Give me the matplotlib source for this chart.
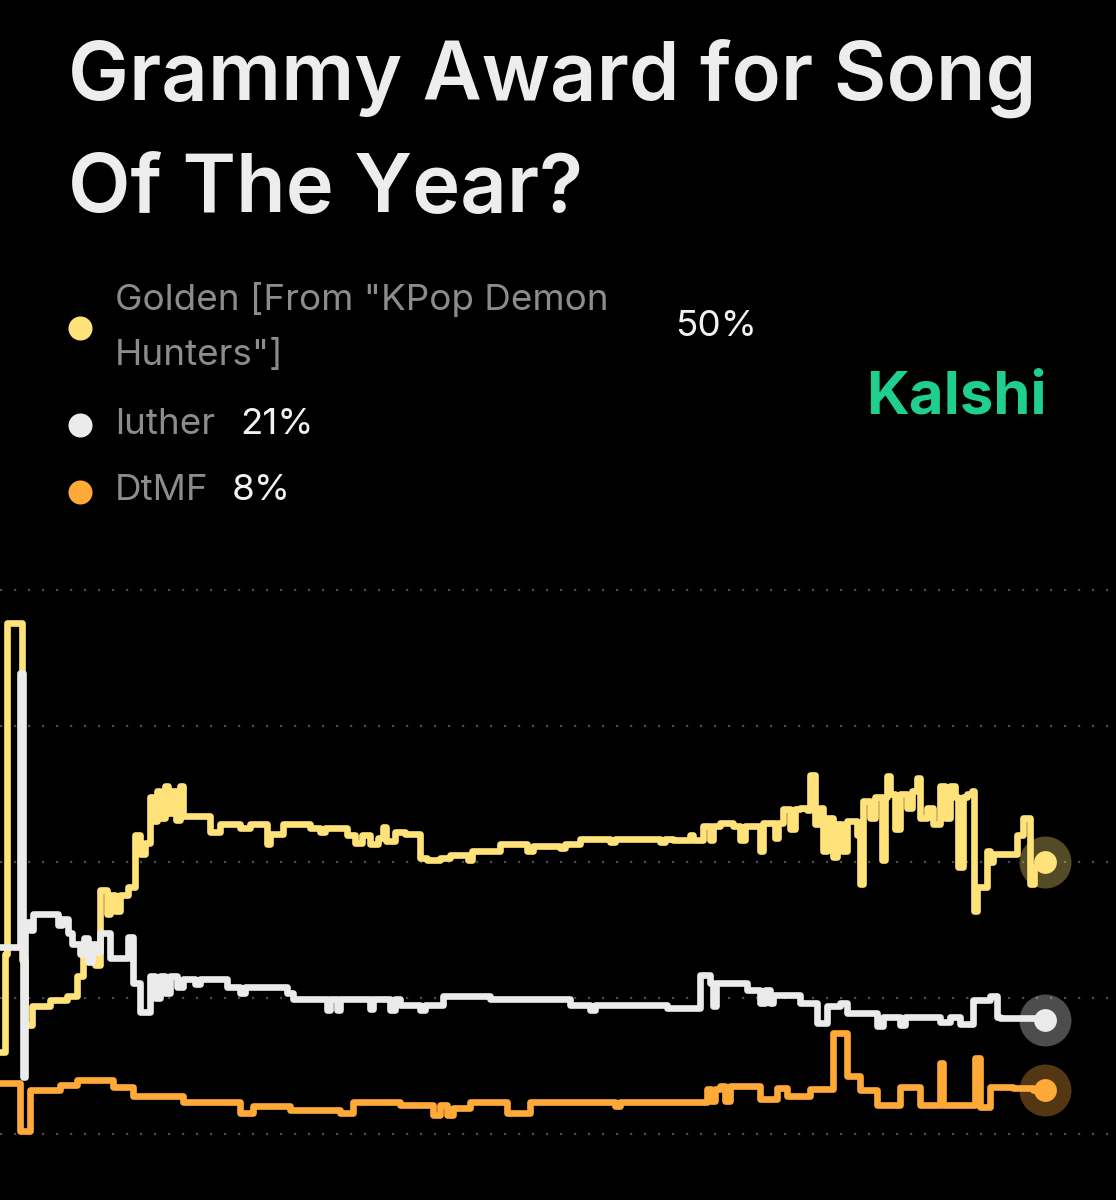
import numpy as np
import matplotlib
matplotlib.use("Agg")
import matplotlib.pyplot as plt

plt.rcParams["font.family"] = ["Inter", "DejaVu Sans"]

# ─── data (percent chance) ──────────────────────────────────────
golden_t = [0, 5, 7, 22, 25, 32, 50, 67, 77, 83, 95, 100, 107, 110, 115, 120, 128,
            135, 140, 145, 150, 153, 157, 160, 165, 168, 172, 176, 180, 183, 210,
            220, 240, 250, 267, 270, 283, 310, 320, 325, 347, 355, 362, 370, 378,
            383, 386, 395, 405, 420, 427, 440, 450, 468, 472, 500, 527, 533, 560,
            565, 580, 610, 615, 660, 665, 673, 690, 693, 703, 710, 713, 720, 733,
            740, 745, 760, 763, 775, 778, 783, 790, 795, 800, 807, 810, 815, 820,
            823, 827, 833, 837, 842, 847, 857, 860, 863, 870, 875, 882, 885, 887,
            890, 895, 900, 907, 912, 917, 920, 927, 933, 940, 945, 950, 955, 958,
            963, 967, 972, 974, 977, 987, 990, 993, 1017, 1023, 1030, 1034, 1040, 1045]
golden_v = [15, 33, 94, 32, 20, 23.5, 24.7, 25.3, 29, 33, 31, 44.8, 40.5, 44, 41, 44, 45.4,
            55, 51.5, 53.5, 62, 57.5, 63, 58, 64, 59, 63, 57.8, 64, 58.4, 55.6,
            56.9, 56.2, 56.9, 53.3, 55.2, 56.9, 56.2, 55.6, 56.2, 54.9, 53.5, 55, 53.3, 54.5,
            56.5, 53.8, 55.5, 55.2, 50.7, 50.3, 50.8, 51.3, 50.4, 52, 53.3, 52, 53, 52.6,
            53.3, 54.3, 53.6, 54.3, 53.7, 54.3, 54, 55, 54, 56.6, 54, 56.6, 57.2, 56.6,
            54, 56.6, 52, 57.2, 54.5, 57.2, 59.8, 56, 59.8, 60, 59.5, 66, 57, 60,
            52, 58, 51, 57, 52, 57.6, 55, 46, 61.3, 58, 62, 50.3, 62, 65.9,
            62.5, 56, 62.5, 60, 63, 65.5, 58, 60, 57, 64, 58, 64, 62, 49,
            62, 62.5, 63, 41, 45.4, 52, 50, 51.5, 55, 58, 46, 49, 50, 50]

luther_t = [0, 20, 23, 25, 30, 33, 58, 62, 68, 72, 80, 84, 88, 92, 96, 100, 110, 128,
            133, 140, 150, 155, 160, 165, 170, 177, 183, 195, 200, 227, 240, 245, 287,
            293, 327, 330, 337, 340, 370, 373, 390, 395, 400, 420, 425, 443, 490, 570,
            590, 595, 667, 700, 710, 713, 716, 747, 760, 765, 770, 773, 800, 817, 827,
            840, 847, 877, 883, 900, 905, 940, 950, 960, 973, 990, 997, 1000, 1045]
luther_v = [34.3, 84.7, 10.4, 38.9, 37.5, 40.5, 38.5, 39.5, 36.9, 35, 33, 36, 31.6, 35, 33.5,
            36.9, 32.3, 36.2, 27.7, 22.5, 29, 25, 29, 26, 29, 27, 28.5, 27.5, 28.5, 27.1,
            26, 27.1, 26, 24.8, 22.8, 24.8, 22.8, 24.8, 23, 24.8, 22.8, 24.8, 23.8, 22.8,
            23.8, 25.4, 24.8, 23.8, 22.8, 23.8, 23.1, 29.3, 27.7, 23.5, 27.7, 26.5, 24,
            26.5, 24, 25.5, 24, 20.4, 23.5, 24, 22.3, 19.8, 21.6, 20, 21.6, 20.5, 21.6,
            20.3, 24.7, 25.3, 21.6, 21.3, 21]

dtmf_t = [0, 20, 30, 60, 77, 113, 133, 183, 240, 253, 290, 340, 353, 400, 433, 440, 447,
          453, 470, 507, 530, 615, 620, 707, 711, 715, 720, 725, 730, 760, 777, 787, 810,
          833, 847, 860, 877, 900, 920, 940, 943, 975, 980, 990, 1013, 1033, 1045]
dtmf_v = [9.4, 0.5, 8, 9, 10, 8.7, 7, 5.8, 3.9, 5.1, 4.5, 3.9, 5.8, 5.4, 3.5, 5.4, 3.5,
          4.8, 5.8, 3.9, 5.8, 5.2, 5.8, 8.2, 6.1, 8.2, 8.8, 6.1, 8.8, 6.4, 8.5, 7, 8.2,
          18.6, 10.7, 8, 5.4, 8.7, 5.4, 13, 5.4, 14, 5, 8.7, 8.4, 8, 8]

names = ['Golden [From "KPop Demon\nHunters"]', "luther", "DtMF"]
current = ["50%", "21%", "8%"]
colors = ["#FFE27A", "#EBEBEB", "#FFAA38"]
grid_levels = [0, 25, 50, 75, 100]

BG = "#000000"

fig = plt.figure(figsize=(11.16, 12), dpi=100, facecolor=BG)

# ─── chart ─────────────────────────────────────────────────────
ax = fig.add_axes([0, 50 / 1200, 1, 570 / 1200])
ax.set_facecolor(BG)
ax.set_xlim(0, 1116)
ax.set_ylim(-2.94, 101.84)
ax.axis("off")

for g in grid_levels:
    ax.axhline(g, color="#4A4A4A", linewidth=1.6, linestyle=(0, (1, 5.3)),
               dash_capstyle="butt", zorder=1)

series = [(golden_t, golden_v), (luther_t, luther_v), (dtmf_t, dtmf_v)]
for (t, v), c in zip(series, colors):
    ax.plot(t, v, drawstyle="steps-post", color=c, linewidth=4.8,
            solid_joinstyle="round", solid_capstyle="round", zorder=3)
    ax.scatter([t[-1]], [v[-1]], s=1400, color=c, alpha=0.33, linewidths=0, zorder=4)
    ax.scatter([t[-1]], [v[-1]], s=270, color=c, linewidths=0, zorder=5)

# ─── header / legend (pixel layout) ────────────────────────────
lay = fig.add_axes([0, 0, 1, 1], facecolor="none")
lay.set_xlim(0, 1116)
lay.set_ylim(1200, 0)
lay.axis("off")

title_kw = dict(color="#EDEDED", fontsize=58.5, fontweight="semibold", va="baseline")
lay.text(68, 100, "Grammy Award for Song", **title_kw)
lay.text(68, 212, "Of The Year?", **title_kw)

leg_y = [328, 425, 492]
for y, c in zip(leg_y, colors):
    lay.scatter([80], [y], s=300, color=c, linewidths=0)

txt_kw = dict(fontsize=26.5, va="center")
lay.text(115, 327, names[0], color="#8C8C8C", linespacing=1.85, **txt_kw)
lay.text(675, 327, current[0], color="#F2F2F2", **txt_kw)
lay.text(115, 424, names[1], color="#8C8C8C", **txt_kw)
lay.text(240, 424, current[1], color="#F2F2F2", **txt_kw)
lay.text(115, 491, names[2], color="#8C8C8C", **txt_kw)
lay.text(232, 491, current[2], color="#F2F2F2", **txt_kw)

lay.text(866, 398, "Kalshi", color="#1ECF8E", fontsize=43, fontweight="bold",
         va="center")

fig.savefig("out.png", dpi=100, facecolor=BG)
